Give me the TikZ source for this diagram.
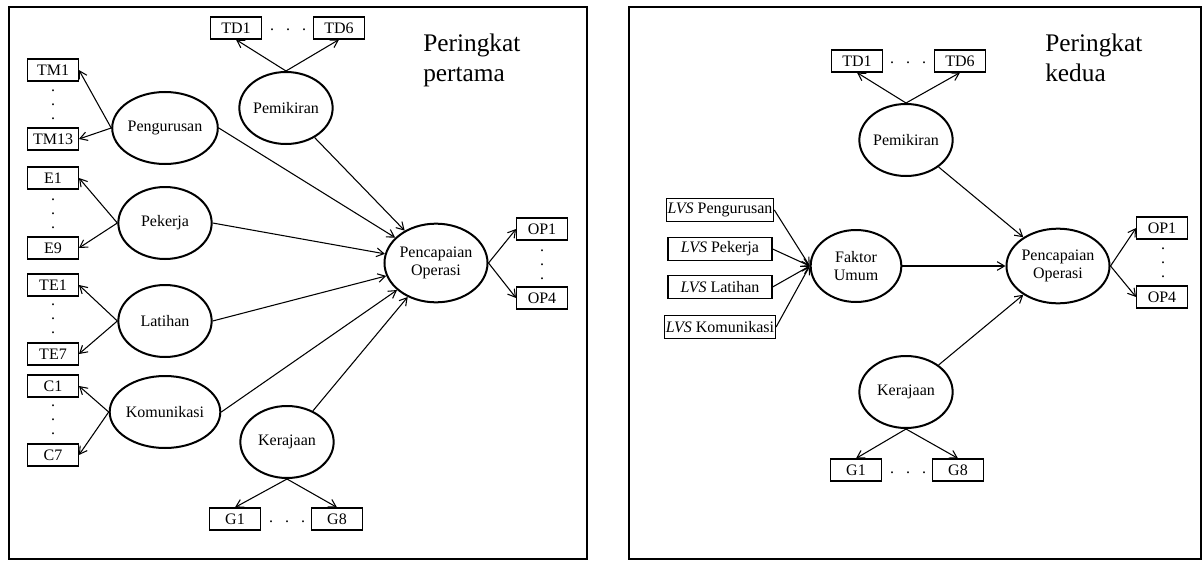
\documentclass[tikz,border=0pt]{standalone}
\usepackage{fontspec}
\setmainfont{Liberation Serif}
\usetikzlibrary{shapes.geometric,arrows.meta,positioning}

\tikzset{
  latent/.style={draw, ellipse, line width=1.5pt, minimum width=70pt, minimum height=54pt, inner sep=0pt, align=center},
  ind/.style={draw, rectangle, line width=0.9pt, minimum width=38pt, minimum height=16.5pt, inner sep=1pt},
  lvs/.style={ind, minimum width=78pt, minimum height=17pt},
  path/.style={-{Straight Barb[length=5.5pt,width=6.5pt]}, line width=0.8pt},
  vdots/.style={align=center, inner sep=0pt, font=\fontsize{12}{10.5}\selectfont},
  hdots/.style={inner sep=0pt},
  heading/.style={anchor=north west, inner sep=0pt, align=left, font=\fontsize{19}{22.5}\selectfont}
}

\begin{document}
\begin{tikzpicture}[x=0.75pt, y=-0.75pt, font=\fontsize{12}{13.5}\selectfont]
  \useasboundingbox (0,0) rectangle (1202,560);
  % frames
  \draw[line width=1.6pt] (9,7) rectangle (587,559);
  \draw[line width=1.6pt] (629,7) rectangle (1201,559);

  % first order
  \node[heading] (titleA) at (423,34) {Peringkat\\pertama};
  \node[ind] (TD1a) at (236,28) {TD1};
  \node[ind] (TD6a) at (339,28) {TD6};
  \node[hdots] (TDdotsA) at (288,30) {.\hspace{9pt}.\hspace{9pt}.};
  \node[latent] (PemA) at (286,108) {Pemikiran};

  \node[ind] (TM1) at (53,70) {TM1};
  \node[ind] (TM13) at (53,139) {TM13};
  \node[vdots] (TMdots) at (53,105) {.\\.\\.};
  \node[latent] (PengA) at (165,128) {Pengurusan};

  \node[ind] (E1) at (53,178) {E1};
  \node[ind] (E9) at (53,248) {E9};
  \node[vdots] (Edots) at (53,214) {.\\.\\.};
  \node[latent] (PekA) at (165,223) {Pekerja};

  \node[ind] (TE1) at (53,285) {TE1};
  \node[ind] (TE7) at (53,354) {TE7};
  \node[vdots] (TEdots) at (53,319) {.\\.\\.};
  \node[latent] (LatA) at (165,321) {Latihan};

  \node[ind] (C1) at (53,386) {C1};
  \node[ind] (C7) at (53,455) {C7};
  \node[vdots] (Cdots) at (53,420) {.\\.\\.};
  \node[latent] (KomA) at (165,412) {Komunikasi};

  \node[latent] (KerA) at (287,442) {Kerajaan};
  \node[ind] (G1a) at (235,519) {G1};
  \node[ind] (G8a) at (337,519) {G8};
  \node[hdots] (GdotsA) at (287,522) {.\hspace{9pt}.\hspace{9pt}.};

  \node[latent, minimum width=71pt, minimum height=59pt] (POa) at (436,263) {Pencapaian\\Operasi};
  \node[ind] (OP1a) at (542,229) {OP1};
  \node[ind] (OP4a) at (542,298) {OP4};
  \node[vdots] (OPdotsA) at (542,265) {.\\.\\.};

  \draw[path] (PemA.north) -- (TD1a.south);
  \draw[path] (PemA.north) -- (TD6a.south);
  \draw[path] (PengA.west) -- (TM1.east);
  \draw[path] (PengA.west) -- (TM13.east);
  \draw[path] (PekA.west) -- (E1.east);
  \draw[path] (PekA.west) -- (E9.east);
  \draw[path] (LatA.west) -- (TE1.east);
  \draw[path] (LatA.west) -- (TE7.east);
  \draw[path] (KomA.west) -- (C1.east);
  \draw[path] (KomA.west) -- (C7.east);
  \draw[path] (KerA.south) -- (G1a.north);
  \draw[path] (KerA.south) -- (G8a.north);
  \draw[path] (PemA) -- (POa);
  \draw[path] (PengA.east) -- (POa);
  \draw[path] (PekA.east) -- (POa);
  \draw[path] (LatA.east) -- (POa);
  \draw[path] (KomA.east) -- (POa);
  \draw[path] (KerA) -- (POa);
  \draw[path] (POa.east) -- (OP1a.west);
  \draw[path] (POa.east) -- (OP4a.west);

  % second order
  \node[heading] (titleB) at (1045,34) {Peringkat\\kedua};
  \node[ind] (TD1b) at (857,61) {TD1};
  \node[ind] (TD6b) at (960,61) {TD6};
  \node[hdots] (TDdotsB) at (908,63) {.\hspace{9pt}.\hspace{9pt}.};
  \node[latent] (PemB) at (906,140) {Pemikiran};

  \node[lvs] (LVS1) at (720,210) {\textit{LVS} Pengurusan};
  \node[lvs] (LVS2) at (720,249) {\textit{LVS} Pekerja};
  \node[lvs] (LVS3) at (720,287) {\textit{LVS} Latihan};
  \node[lvs] (LVS4) at (720,327) {\textit{LVS} Komunikasi};
  \node[latent, minimum width=68pt] (FU) at (856,266) {Faktor\\Umum};

  \node[latent, minimum height=56pt] (POb) at (1058,266) {Pencapaian\\Operasi};
  \node[ind] (OP1b) at (1162,228) {OP1};
  \node[ind] (OP4b) at (1162,297) {OP4};
  \node[vdots] (OPdotsB) at (1163,263) {.\\.\\.};

  \node[latent] (KerB) at (906,392) {Kerajaan};
  \node[ind] (G1b) at (856,470) {G1};
  \node[ind] (G8b) at (958,470) {G8};
  \node[hdots] (GdotsB) at (908,473) {.\hspace{9pt}.\hspace{9pt}.};

  \draw[path] (PemB.north) -- (TD1b.south);
  \draw[path] (PemB.north) -- (TD6b.south);
  \draw[path] (PemB) -- (POb);
  \draw[path] (LVS1.east) -- (FU.west);
  \draw[path] (LVS2.east) -- (FU.west);
  \draw[path] (LVS3.east) -- (FU.west);
  \draw[path] (LVS4.east) -- (FU.west);
  \draw[path] (FU) -- (POb);
  \draw[path] (KerB) -- (POb);
  \draw[path] (KerB.south) -- (G1b.north);
  \draw[path] (KerB.south) -- (G8b.north);
  \draw[path] (POb.east) -- (OP1b.west);
  \draw[path] (POb.east) -- (OP4b.west);
\end{tikzpicture}
\end{document}
